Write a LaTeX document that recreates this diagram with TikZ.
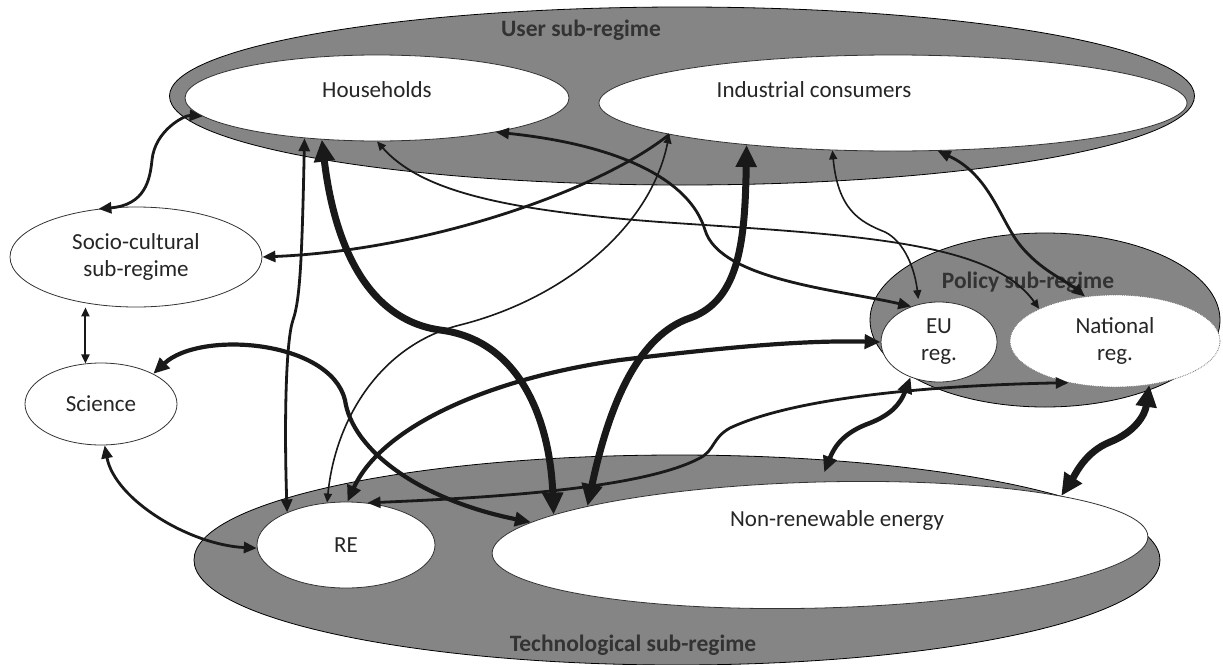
\documentclass[tikz,border=0pt]{standalone}
\usepackage{fontspec}
\setmainfont{Carlito}
\usetikzlibrary{arrows.meta, positioning, shapes.geometric}

\begin{document}
\begin{tikzpicture}[x=1pt, y=-1pt]
        % Styles
        \tikzstyle{band} = [draw=black, line width=0.8pt, ellipse, fill=black!48, inner sep=0pt]
        \tikzstyle{actor} = [draw=black!80, line width=0.8pt, ellipse, fill=white, inner sep=0pt, align=center,
                             font=\fontsize{23}{27}\selectfont, text=black!85]
        \tikzstyle{tag} = [font=\fontsize{23}{27}\selectfont, text=black!85]
        \tikzstyle{bandtag} = [font=\fontsize{23.5}{27}\selectfont\bfseries, text=black!80]
        \tikzstyle{thinlink} = [black!90, line width=1.6pt, {Triangle[length=9pt,width=8pt]}-{Triangle[length=9pt,width=8pt]}]
        \tikzstyle{medlink} = [black!90, line width=2.8pt, {Triangle[length=13pt,width=11pt]}-{Triangle[length=13pt,width=11pt]}]
        \tikzstyle{thicklink} = [black!90, line width=4.2pt, {Triangle[length=16pt,width=14pt]}-{Triangle[length=16pt,width=14pt]}]
        \tikzstyle{heavylink} = [black!90, line width=7pt, {Triangle[length=22pt,width=20pt]}-{Triangle[length=22pt,width=20pt]}]

        \useasboundingbox (0,0) rectangle (1223,664);

        % Sub-regime bands
        \node[band, minimum width=1025pt, minimum height=178pt] (user) at (682,96) {};
        \node[band, minimum width=966pt, minimum height=210pt] (tech) at (677,560) {};
        \node[band, minimum width=350pt, minimum height=174pt] (pol) at (1045,320) {};

        % Actors inside the bands
        \node[actor, minimum width=384pt, minimum height=86pt] (hh) at (377,98) {};
        \node[tag] (hhtxt) at ([yshift=8pt]hh.center) {Households};
        \node[actor, minimum width=588pt, minimum height=96pt] (ind) at (893,103) {};
        \node[tag] (indtxt) at ([xshift=-79pt, yshift=13pt]ind.center) {Industrial consumers};
        \node[actor, minimum width=116pt, minimum height=80pt] (eu) at (939,342) {EU\\reg.};
        \node[actor, draw=black!55, densely dotted, minimum width=210pt, minimum height=92pt] (nat) at (1115,341) {National\\reg.};
        \node[actor, minimum width=178pt, minimum height=86pt] (re) at (346,545) {RE};
        \node[actor, minimum width=656pt, minimum height=126pt, rotate=1.5] (nr) at (820,545) {};
        \node[tag] (nrtxt) at ([xshift=17pt, yshift=25pt]nr.center) {Non-renewable energy};

        % Stand-alone actors
        \node[actor, minimum width=252pt, minimum height=100pt] (soc) at (136,257) {Socio-cultural\\sub-regime};
        \node[actor, minimum width=152pt, minimum height=82pt] (sci) at (101,404) {Science};

        % Band labels
        \node[bandtag] (usertag) at (581,30) {User sub-regime};
        \node[bandtag] (poltag) at (1028,282) {Policy sub-regime};
        \node[bandtag] (techtag) at (633,645) {Technological sub-regime};

        % Socio-cultural links
        \draw[medlink] (soc.128) .. controls (145,205) and (150,180) .. (152,160) .. controls (155,130) and (185,115) .. (hh.186);
        \draw[medlink, -{Triangle[length=13pt,width=11pt]}] (ind.188) .. controls (600,190) and (430,250) .. (soc.0);
        \draw[thinlink, line width=2pt] (sci.111 |- soc.south) -- (sci.111);

        % Science links
        \draw[medlink] (sci.275) .. controls (115,500) and (190,545) .. (re.182);
        \draw[thicklink] (sci.30) .. controls (200,330) and (330,340) .. (345,400) .. controls (352,450) and (420,500) .. (nr.174);

        % Household links
        \draw[medlink] (hh.209) .. controls (302,260) and (300,300) .. (293,320) .. controls (286,340) and (284,420) .. (re.151);
        \draw[heavylink] (hh.217) .. controls (335,250) and (370,320) .. (440,330) .. controls (520,340) and (550,420) .. (nr.172);
        \draw[medlink] (hh.344) .. controls (620,145) and (690,180) .. (705,230) .. controls (720,280) and (840,290) .. (eu.128);
        \draw[thinlink, line width=1.8pt] (hh.270) .. controls (420,190) and (500,210) .. (660,222) .. controls (850,235) and (990,240) .. (nat.157);

        % Industrial links
        \draw[heavylink] (ind.196) .. controls (745,240) and (740,300) .. (690,318) .. controls (640,335) and (610,400) .. (nr.169);
        \draw[thinlink] (ind.188) .. controls (650,230) and (560,300) .. (460,325) .. controls (380,345) and (335,420) .. (re.114);
        \draw[thinlink, shorten >=5pt] (ind.218) .. controls (838,210) and (860,222) .. (885,232) .. controls (905,242) and (915,270) .. (eu.118);
        \draw[medlink] (ind.313) .. controls (990,175) and (1000,220) .. (1020,245) .. controls (1040,270) and (1065,280) .. (nat.124);

        % RE links to policy
        \draw[thicklink] (re.88) .. controls (380,430) and (480,380) .. (620,360) .. controls (720,348) and (800,340) .. (eu.180);
        \draw[medlink] (re.63) .. controls (480,498) and (640,490) .. (700,458) .. controls (715,450) and (712,438) .. (730,428) .. controls (800,395) and (950,385) .. (nat.222);

        % Policy to technology
        \draw[thicklink, line width=4.5pt, shorten >=10pt] (eu.231) .. controls (900,405) and (890,415) .. (870,423) .. controls (845,432) and (835,445) .. (nr.88);
        \draw[heavylink] (nat.308) .. controls (1145,415) and (1135,432) .. (1110,442) .. controls (1085,452) and (1075,475) .. (nr.10);
\end{tikzpicture}
\end{document}
